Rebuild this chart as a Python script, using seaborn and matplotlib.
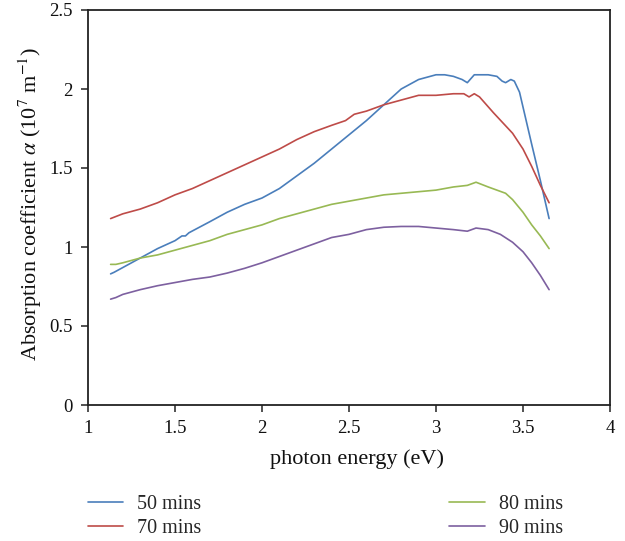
import matplotlib
matplotlib.use("Agg")
import matplotlib.pyplot as plt
import pandas as pd
import seaborn as sns

# photon energy (eV) and absorption coefficient (10^7 m^-1)
energy_50 = [1.13, 1.15, 1.2, 1.3, 1.4, 1.5, 1.54, 1.56, 1.58, 1.7, 1.8, 1.9, 2.0, 2.1, 2.2,
             2.3, 2.4, 2.5, 2.6, 2.7, 2.8, 2.9, 3.0, 3.05, 3.1, 3.15, 3.18, 3.22, 3.3, 3.35,
             3.38, 3.40, 3.43, 3.45, 3.48, 3.55, 3.6, 3.65]
alpha_50 = [0.83, 0.84, 0.87, 0.93, 0.99, 1.04, 1.07, 1.07, 1.09, 1.16, 1.22, 1.27, 1.31, 1.37, 1.45,
            1.53, 1.62, 1.71, 1.80, 1.90, 2.00, 2.06, 2.09, 2.09, 2.08, 2.06, 2.04, 2.09, 2.09, 2.08,
            2.05, 2.04, 2.06, 2.05, 1.98, 1.65, 1.42, 1.18]

energy_70 = [1.13, 1.2, 1.3, 1.4, 1.5, 1.55, 1.6, 1.7, 1.8, 1.9, 2.0, 2.1, 2.2, 2.3, 2.4, 2.48,
             2.53, 2.6, 2.7, 2.8, 2.9, 3.0, 3.1, 3.16, 3.19, 3.22, 3.25, 3.33, 3.44, 3.5, 3.55,
             3.6, 3.65]
alpha_70 = [1.18, 1.21, 1.24, 1.28, 1.33, 1.35, 1.37, 1.42, 1.47, 1.52, 1.57, 1.62, 1.68, 1.73, 1.77, 1.80,
            1.84, 1.86, 1.90, 1.93, 1.96, 1.96, 1.97, 1.97, 1.95, 1.97, 1.95, 1.85, 1.72, 1.62, 1.51,
            1.39, 1.28]

energy_80 = [1.13, 1.16, 1.2, 1.3, 1.4, 1.5, 1.6, 1.7, 1.8, 1.9, 2.0, 2.1, 2.2, 2.3, 2.4, 2.5,
             2.6, 2.7, 2.8, 2.9, 3.0, 3.1, 3.18, 3.23, 3.3, 3.4, 3.44, 3.5, 3.55, 3.6, 3.65]
alpha_80 = [0.89, 0.89, 0.90, 0.93, 0.95, 0.98, 1.01, 1.04, 1.08, 1.11, 1.14, 1.18, 1.21, 1.24, 1.27, 1.29,
            1.31, 1.33, 1.34, 1.35, 1.36, 1.38, 1.39, 1.41, 1.38, 1.34, 1.30, 1.22, 1.14, 1.07, 0.99]

energy_90 = [1.13, 1.16, 1.2, 1.3, 1.4, 1.5, 1.55, 1.6, 1.7, 1.8, 1.9, 2.0, 2.1, 2.2, 2.3, 2.4,
             2.5, 2.6, 2.7, 2.8, 2.9, 3.0, 3.1, 3.18, 3.23, 3.3, 3.37, 3.44, 3.5, 3.55, 3.6, 3.65]
alpha_90 = [0.67, 0.68, 0.70, 0.73, 0.755, 0.775, 0.785, 0.795, 0.81, 0.835, 0.865, 0.90, 0.94, 0.98, 1.02, 1.06,
            1.08, 1.11, 1.125, 1.13, 1.13, 1.12, 1.11, 1.10, 1.12, 1.11, 1.08, 1.03, 0.97, 0.90, 0.82, 0.73]

series_labels = ["50 mins", "70 mins", "80 mins", "90 mins"]
series_colors = ["#4a7ebb", "#be4b48", "#98b954", "#7d60a0"]

frames = []
for label, xs, ys in zip(series_labels,
                         [energy_50, energy_70, energy_80, energy_90],
                         [alpha_50, alpha_70, alpha_80, alpha_90]):
    frames.append(pd.DataFrame({"energy": xs, "alpha": ys, "series": label}))
df = pd.concat(frames, ignore_index=True)

sns.set_theme(style="ticks")
plt.rcParams["font.family"] = ["Liberation Serif", "DejaVu Serif"]
plt.rcParams["mathtext.fontset"] = "stix"

fig = plt.figure(figsize=(6.25, 5.41), dpi=100)
ax = fig.add_axes([88 / 625, 1 - 405 / 541, (610 - 88) / 625, (405 - 10) / 541])

sns.lineplot(
    data=df,
    x="energy",
    y="alpha",
    hue="series",
    hue_order=series_labels,
    palette=series_colors,
    sort=False,
    estimator=None,
    linewidth=1.2,
    ax=ax,
)

ax.set_xlim(1, 4)
ax.set_ylim(0, 2.5)
ax.set_xticks([1, 1.5, 2, 2.5, 3, 3.5, 4])
ax.set_xticklabels(["1", "1.5", "2", "2.5", "3", "3.5", "4"])
ax.set_yticks([0, 0.5, 1, 1.5, 2, 2.5])
ax.set_yticklabels(["0", "0.5", "1", "1.5", "2", "2.5"])
ax.tick_params(labelsize=13.5, length=5, width=1.1, color="#222222", labelcolor="#111111", pad=6)
for side in ["left", "bottom", "top", "right"]:
    ax.spines[side].set_visible(True)
    ax.spines[side].set_linewidth(1.3)
    ax.spines[side].set_color("#222222")

ax.set_xlabel("photon energy (eV)", fontsize=16, color="#111111")
ax.set_ylabel(r"Absorption coefficient $\alpha$ (10$^{7}$ m$^{-1}$)", fontsize=16,
              color="#111111")
ax.xaxis.set_label_coords(0.515, -0.113)
ax.yaxis.set_label_coords(-0.085, 0.51)

handles, labels = ax.get_legend_handles_labels()
ax.get_legend().remove()
fig.legend(
    handles, labels,
    ncol=2,
    loc="upper left",
    bbox_to_anchor=(78 / 625, 1 - 485 / 541),
    frameon=False,
    fontsize=14.5,
    borderpad=0,
    handlelength=1.75,
    handletextpad=0.7,
    labelspacing=0.25,
    columnspacing=12.3,
)

fig.savefig("out.png", dpi=100)
